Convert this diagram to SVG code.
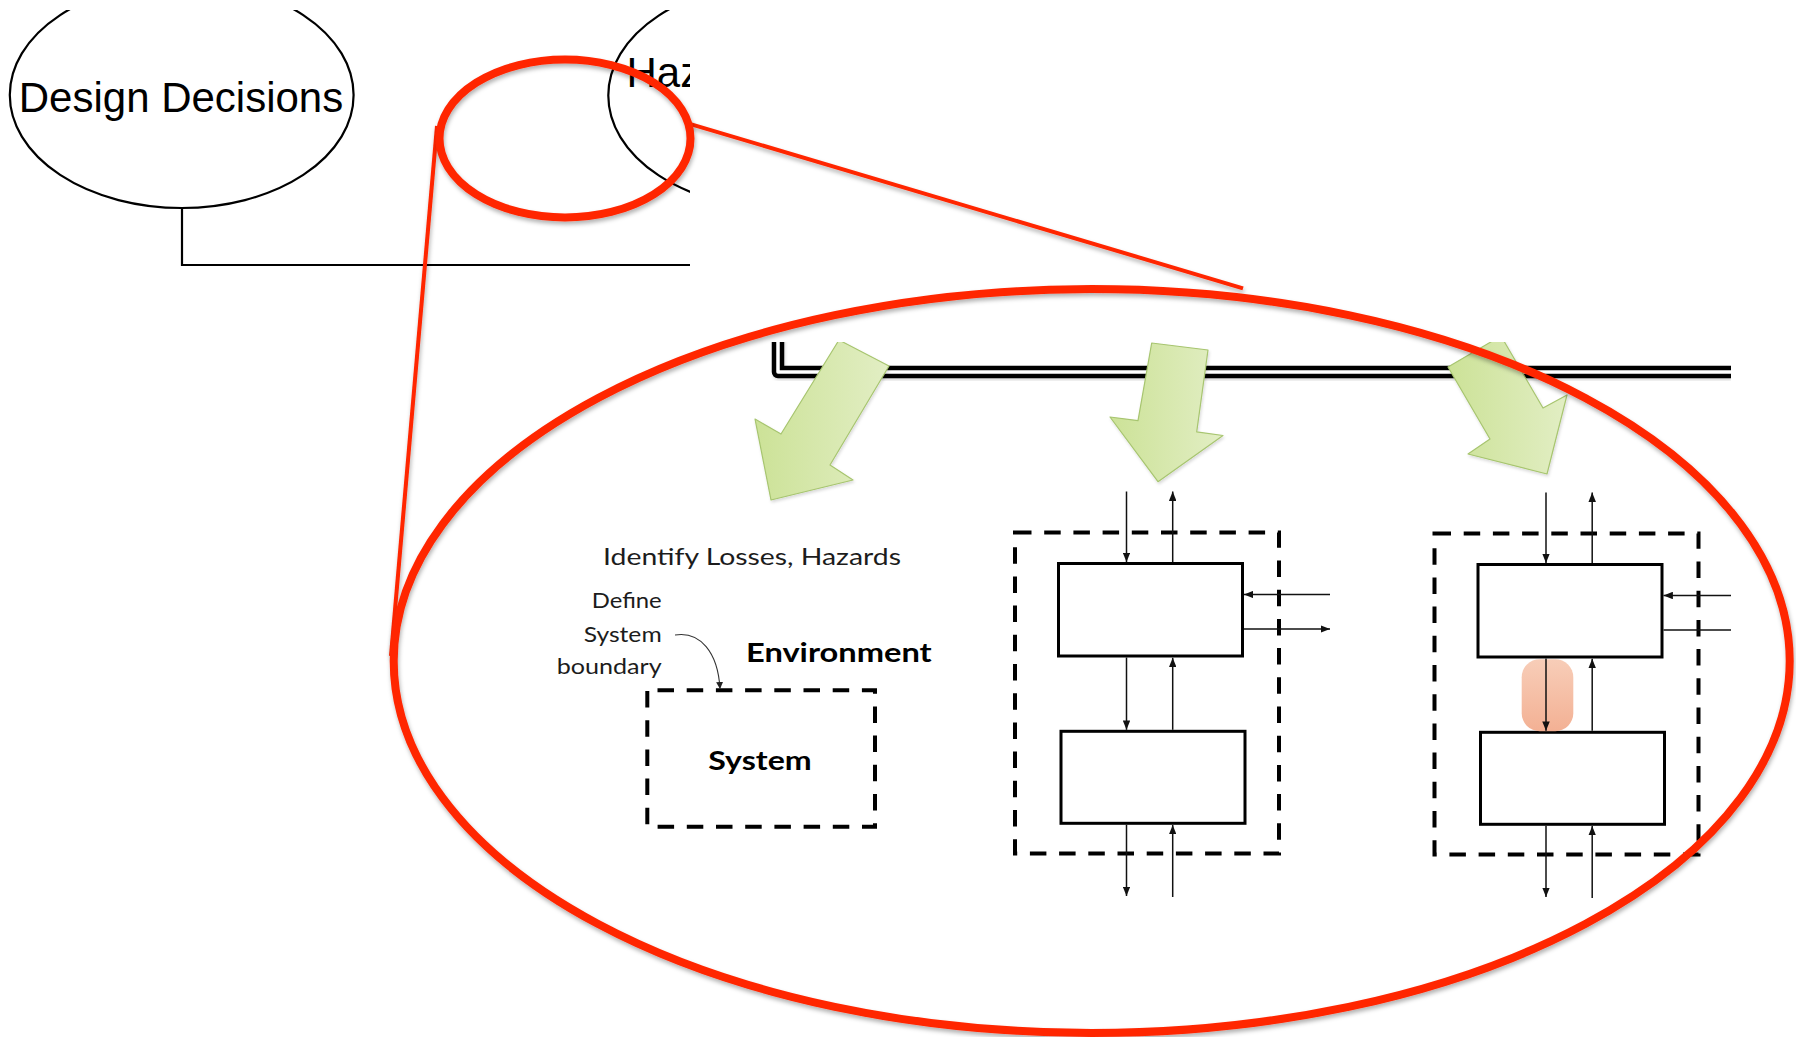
<svg xmlns="http://www.w3.org/2000/svg" width="1796" height="1037" viewBox="0 0 1796 1037">
  <defs>
    <style>
      .bubble{fill:none;stroke:#000;stroke-width:2.2}
      .title{font-family:"Liberation Sans",Arial,Helvetica,sans-serif;font-size:42px;fill:#000}
      .lens{fill:none;stroke:#ff2600;stroke-width:8;filter:url(#shadow)}
      .beam{fill:none;stroke:#ff2600;stroke-width:4;filter:url(#shadow)}
      .cal{font-family:Lato,"Open Sans",sans-serif;fill:#1c1c1c}
      .bold{font-weight:700;fill:#000}
      .boundary{fill:none;stroke:#000;stroke-width:4;stroke-dasharray:16.5 12.7}
      .block{fill:#fff;stroke:#000;stroke-width:3}
      .flow{fill:none;stroke:#111;stroke-width:1.5;marker-end:url(#head)}
      .fat{fill:url(#leaf);stroke:#a7c56f;stroke-width:1.2;stroke-linejoin:round;filter:url(#soft)}
    </style>
    <filter id="shadow" x="-10%" y="-10%" width="120%" height="130%">
      <feDropShadow dx="1" dy="3" stdDeviation="2.2" flood-color="#000" flood-opacity="0.3"/>
    </filter>
    <filter id="soft" x="-10%" y="-10%" width="130%" height="130%">
      <feDropShadow dx="1" dy="2" stdDeviation="1.5" flood-color="#000" flood-opacity="0.15"/>
    </filter>
    <linearGradient id="leaf" x1="0" y1="0" x2="1" y2="0">
      <stop offset="0" stop-color="#cce297"/>
      <stop offset="1" stop-color="#e2eec4"/>
    </linearGradient>
    <linearGradient id="glow" x1="0" y1="0" x2="0" y2="1">
      <stop offset="0" stop-color="#f7c9b2"/>
      <stop offset="1" stop-color="#f2aa8b"/>
    </linearGradient>
    <marker id="head" viewBox="0 0 10 8" refX="10" refY="4" markerWidth="9.5" markerHeight="7.5" markerUnits="userSpaceOnUse" orient="auto">
      <path d="M0,0 L10,4 L0,8 z" fill="#111"/>
    </marker>
    <marker id="tip" viewBox="0 0 10 10" refX="10" refY="5" markerWidth="7" markerHeight="7" markerUnits="userSpaceOnUse" orient="auto">
      <path d="M0,0 L10,5 L0,10 z" fill="#222"/>
    </marker>
    <clipPath id="top-edge">
      <rect x="0" y="10" width="1796" height="1027"/>
    </clipPath>
    <clipPath id="haz-cut">
      <rect x="0" y="10" width="690" height="1027"/>
    </clipPath>
    <clipPath id="inset">
      <rect x="380" y="342" width="1351" height="695"/>
    </clipPath>
  </defs>

  <rect width="1796" height="1037" fill="#fff"/>

  <!-- top level bubbles -->
  <g id="design-decisions" clip-path="url(#top-edge)">
    <ellipse class="bubble" cx="181.7" cy="95" rx="171.9" ry="113"/>
    <text class="title" x="181" y="112" text-anchor="middle">Design Decisions</text>
  </g>
  <g id="hazards" clip-path="url(#haz-cut)">
    <ellipse class="bubble" cx="780.3" cy="95.5" rx="172" ry="113"/>
    <text class="title" x="626.5" y="87">Haz</text>
  </g>

  <g id="connectors">
    <path class="bubble" d="M182 208 V265 H690"/>
  </g>

  <!-- enlarged detail -->
  <g id="detail" clip-path="url(#inset)">
    <g id="rail">
      <path d="M778 330 V372 H1731" fill="none" stroke="#000" stroke-width="12.5" stroke-linejoin="round" filter="url(#soft)"/>
      <path d="M778 330 V372 H1731" fill="none" stroke="#fff" stroke-width="3.5" stroke-linejoin="round"/>
    </g>

    <g id="arrow-left">
      <polygon class="fat" points="839,340 889,366 830,465 853,480 771,500 755,419 781,434"/>
    </g>
    <g id="arrow-middle">
      <polygon class="fat" points="1151.7,343 1208,350 1196.7,431.8 1223,435.5 1158,481.7 1110,417 1138,420.6"/>
    </g>
    <g id="arrow-right">
      <polygon class="fat" points="1448,367 1501,336 1543,408 1567,395 1547,474 1468,454 1490,439"/>
    </g>

    <g id="step-boundary">
      <text class="cal" x="752" y="565" font-size="23.5" text-anchor="middle" textLength="298" lengthAdjust="spacingAndGlyphs">Identify Losses, Hazards</text>
      <text class="cal" x="661.7" y="608.3" font-size="21" text-anchor="end" textLength="70" lengthAdjust="spacingAndGlyphs">Define</text>
      <text class="cal" x="661.7" y="641.7" font-size="21" text-anchor="end" textLength="78" lengthAdjust="spacingAndGlyphs">System</text>
      <text class="cal" x="661.7" y="674.3" font-size="21" text-anchor="end" textLength="105" lengthAdjust="spacingAndGlyphs">boundary</text>
      <text class="cal bold" x="746" y="661.7" font-size="26.5" textLength="185.7" lengthAdjust="spacingAndGlyphs">Environment</text>
      <rect class="boundary" x="647.3" y="690.3" width="227.7" height="136.4" style="stroke-dashoffset:19"/>
      <text class="cal bold" x="708.3" y="770" font-size="26.5" textLength="103.4" lengthAdjust="spacingAndGlyphs">System</text>
      <path d="M675 635 C700 631 718 652 720 689" fill="none" stroke="#333" stroke-width="1.1" marker-end="url(#tip)"/>
    </g>

    <g id="step-control">
      <rect class="boundary" x="1015" y="532.5" width="264" height="321"/>
      <rect class="block" x="1058.5" y="563.5" width="184" height="92.5"/>
      <rect class="block" x="1061" y="731.3" width="184" height="92"/>
      <g class="links">
        <path class="flow" d="M1126.5 491.5 V562"/>
        <path class="flow" d="M1172.7 562 V491.5"/>
        <path class="flow" d="M1126.5 657.5 V729.8"/>
        <path class="flow" d="M1172.7 729.8 V657.8"/>
        <path class="flow" d="M1126.5 824.8 V896"/>
        <path class="flow" d="M1172.7 897 V825"/>
        <path class="flow" d="M1330 594.5 H1244"/>
        <path class="flow" d="M1244 629 H1330"/>
      </g>
    </g>

    <g id="step-unsafe" transform="translate(419.5 1)">
      <rect class="boundary" x="1015" y="532.5" width="264" height="321"/>
      <rect class="block" x="1058.5" y="563.5" width="184" height="92.5"/>
      <rect class="block" x="1061" y="731.3" width="184" height="92"/>
      <rect x="1102.2" y="658.2" width="51.6" height="72" rx="18" fill="url(#glow)" opacity="0.92"/>
      <g class="links">
        <path class="flow" d="M1126.5 491.5 V562"/>
        <path class="flow" d="M1172.7 562 V491.5"/>
        <path class="flow" d="M1126.5 657.5 V729.8"/>
        <path class="flow" d="M1172.7 729.8 V657.8"/>
        <path class="flow" d="M1126.5 824.8 V896"/>
        <path class="flow" d="M1172.7 897 V825"/>
        <path class="flow" d="M1330 594.5 H1244"/>
        <path class="flow" d="M1244 629 H1330"/>
      </g>
    </g>
  </g>

  <!-- magnifier callout -->
  <g id="magnifier">
    <line class="beam" x1="437" y1="126" x2="391" y2="656"/>
    <line class="beam" x1="688" y1="123.3" x2="1243" y2="288.3"/>
    <ellipse class="lens" cx="565" cy="138.5" rx="125.5" ry="79"/>
    <ellipse class="lens" cx="1091.7" cy="661" rx="698" ry="372"/>
  </g>
</svg>
